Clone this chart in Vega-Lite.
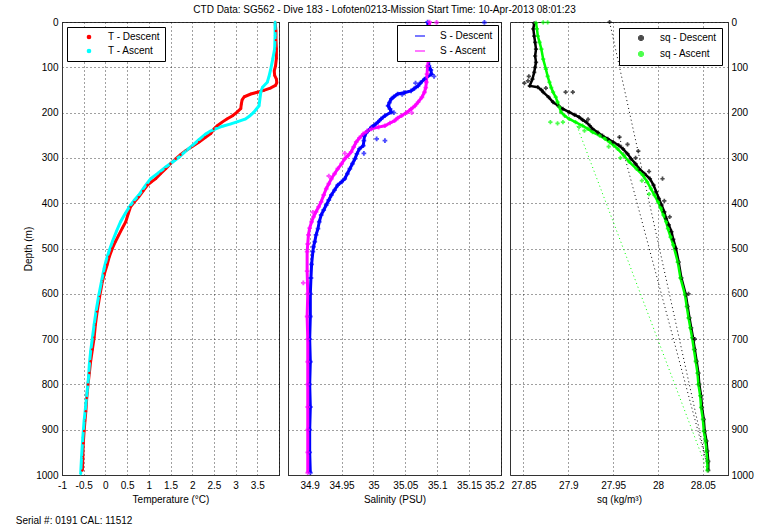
{
  "$schema": "https://vega.github.io/schema/vega-lite/v6.json",
  "background": "white",
  "padding": {"left": 15, "top": 4, "right": 5, "bottom": 2},
  "title": {"text": "CTD Data: SG562 - Dive 183 - Lofoten0213-Mission Start Time: 10-Apr-2013 08:01:23", "fontSize": 10, "fontWeight": "normal", "anchor": "middle", "offset": 1, "color": "black"},
  "datasets": {
    "temp": [
      {"cast":"Descent","depth":0,"T":3.91},{"cast":"Descent","depth":20,"T":3.93},{"cast":"Descent","depth":40,"T":3.93},{"cast":"Descent","depth":59,"T":3.94},{"cast":"Descent","depth":80,"T":3.94},{"cast":"Descent","depth":97,"T":3.92},{"cast":"Descent","depth":108,"T":3.89},{"cast":"Descent","depth":118,"T":3.9},{"cast":"Descent","depth":126,"T":3.94},{"cast":"Descent","depth":134,"T":3.95},{"cast":"Descent","depth":140,"T":3.92},{"cast":"Descent","depth":146,"T":3.8},{"cast":"Descent","depth":151,"T":3.65},{"cast":"Descent","depth":155,"T":3.5},{"cast":"Descent","depth":159,"T":3.35},{"cast":"Descent","depth":165,"T":3.2},{"cast":"Descent","depth":172,"T":3.15},{"cast":"Descent","depth":182,"T":3.13},{"cast":"Descent","depth":191,"T":3.12},{"cast":"Descent","depth":200,"T":3.02},{"cast":"Descent","depth":207,"T":2.93},{"cast":"Descent","depth":214,"T":2.8},{"cast":"Descent","depth":221,"T":2.69},{"cast":"Descent","depth":229,"T":2.58},{"cast":"Descent","depth":236,"T":2.5},{"cast":"Descent","depth":246,"T":2.43},{"cast":"Descent","depth":255,"T":2.3},{"cast":"Descent","depth":265,"T":2.16},{"cast":"Descent","depth":275,"T":2.0},{"cast":"Descent","depth":284,"T":1.85},{"cast":"Descent","depth":293,"T":1.73},{"cast":"Descent","depth":302,"T":1.62},{"cast":"Descent","depth":313,"T":1.5},{"cast":"Descent","depth":324,"T":1.39},{"cast":"Descent","depth":335,"T":1.27},{"cast":"Descent","depth":346,"T":1.16},{"cast":"Descent","depth":353,"T":1.06},{"cast":"Descent","depth":360,"T":0.97},{"cast":"Descent","depth":373,"T":0.87},{"cast":"Descent","depth":386,"T":0.77},{"cast":"Descent","depth":397,"T":0.67},{"cast":"Descent","depth":408,"T":0.58},{"cast":"Descent","depth":425,"T":0.52},{"cast":"Descent","depth":441,"T":0.47},{"cast":"Descent","depth":455,"T":0.39},{"cast":"Descent","depth":470,"T":0.31},{"cast":"Descent","depth":485,"T":0.23},{"cast":"Descent","depth":500,"T":0.16},{"cast":"Descent","depth":518,"T":0.09},{"cast":"Descent","depth":536,"T":0.04},{"cast":"Descent","depth":555,"T":-0.02},{"cast":"Descent","depth":573,"T":-0.07},{"cast":"Descent","depth":605,"T":-0.13},{"cast":"Descent","depth":639,"T":-0.19},{"cast":"Descent","depth":668,"T":-0.23},{"cast":"Descent","depth":697,"T":-0.26},{"cast":"Descent","depth":723,"T":-0.3},{"cast":"Descent","depth":749,"T":-0.34},{"cast":"Descent","depth":775,"T":-0.37},{"cast":"Descent","depth":800,"T":-0.4},{"cast":"Descent","depth":830,"T":-0.43},{"cast":"Descent","depth":859,"T":-0.45},{"cast":"Descent","depth":880,"T":-0.47},{"cast":"Descent","depth":903,"T":-0.49},{"cast":"Descent","depth":930,"T":-0.51},{"cast":"Descent","depth":961,"T":-0.52},{"cast":"Descent","depth":990,"T":-0.53},
      {"cast":"Ascent","depth":0,"T":3.91},{"cast":"Ascent","depth":30,"T":3.91},{"cast":"Ascent","depth":59,"T":3.9},{"cast":"Ascent","depth":80,"T":3.86},{"cast":"Ascent","depth":104,"T":3.81},{"cast":"Ascent","depth":120,"T":3.77},{"cast":"Ascent","depth":133,"T":3.73},{"cast":"Ascent","depth":144,"T":3.62},{"cast":"Ascent","depth":155,"T":3.58},{"cast":"Ascent","depth":170,"T":3.56},{"cast":"Ascent","depth":185,"T":3.54},{"cast":"Ascent","depth":192,"T":3.48},{"cast":"Ascent","depth":199,"T":3.42},{"cast":"Ascent","depth":207,"T":3.33},{"cast":"Ascent","depth":214,"T":3.23},{"cast":"Ascent","depth":220,"T":3.05},{"cast":"Ascent","depth":225,"T":2.89},{"cast":"Ascent","depth":230,"T":2.7},{"cast":"Ascent","depth":236,"T":2.54},{"cast":"Ascent","depth":241,"T":2.42},{"cast":"Ascent","depth":247,"T":2.31},{"cast":"Ascent","depth":260,"T":2.15},{"cast":"Ascent","depth":273,"T":2.0},{"cast":"Ascent","depth":285,"T":1.85},{"cast":"Ascent","depth":298,"T":1.7},{"cast":"Ascent","depth":309,"T":1.55},{"cast":"Ascent","depth":320,"T":1.39},{"cast":"Ascent","depth":333,"T":1.22},{"cast":"Ascent","depth":346,"T":1.04},{"cast":"Ascent","depth":364,"T":0.9},{"cast":"Ascent","depth":382,"T":0.77},{"cast":"Ascent","depth":393,"T":0.67},{"cast":"Ascent","depth":404,"T":0.58},{"cast":"Ascent","depth":422,"T":0.46},{"cast":"Ascent","depth":441,"T":0.35},{"cast":"Ascent","depth":463,"T":0.25},{"cast":"Ascent","depth":485,"T":0.16},{"cast":"Ascent","depth":507,"T":0.08},{"cast":"Ascent","depth":525,"T":0.02},{"cast":"Ascent","depth":544,"T":-0.03},{"cast":"Ascent","depth":573,"T":-0.09},{"cast":"Ascent","depth":602,"T":-0.15},{"cast":"Ascent","depth":635,"T":-0.21},{"cast":"Ascent","depth":668,"T":-0.26},{"cast":"Ascent","depth":698,"T":-0.3},{"cast":"Ascent","depth":727,"T":-0.34},{"cast":"Ascent","depth":756,"T":-0.37},{"cast":"Ascent","depth":785,"T":-0.39},{"cast":"Ascent","depth":815,"T":-0.42},{"cast":"Ascent","depth":844,"T":-0.45},{"cast":"Ascent","depth":880,"T":-0.49},{"cast":"Ascent","depth":917,"T":-0.52},{"cast":"Ascent","depth":961,"T":-0.55},{"cast":"Ascent","depth":998,"T":-0.57}
    ],
    "sal": [
      {"cast":"Descent","depth":0,"S":35.085},{"cast":"Descent","depth":15,"S":35.086},{"cast":"Descent","depth":31,"S":35.085},{"cast":"Descent","depth":45,"S":35.087},{"cast":"Descent","depth":59,"S":35.085},{"cast":"Descent","depth":78,"S":35.086},{"cast":"Descent","depth":97,"S":35.087},{"cast":"Descent","depth":106,"S":35.09},{"cast":"Descent","depth":115,"S":35.091},{"cast":"Descent","depth":126,"S":35.08},{"cast":"Descent","depth":134,"S":35.074},{"cast":"Descent","depth":141,"S":35.07},{"cast":"Descent","depth":147,"S":35.064},{"cast":"Descent","depth":152,"S":35.059},{"cast":"Descent","depth":156,"S":35.048},{"cast":"Descent","depth":159,"S":35.038},{"cast":"Descent","depth":165,"S":35.032},{"cast":"Descent","depth":170,"S":35.028},{"cast":"Descent","depth":178,"S":35.025},{"cast":"Descent","depth":185,"S":35.023},{"cast":"Descent","depth":192,"S":35.026},{"cast":"Descent","depth":199,"S":35.028},{"cast":"Descent","depth":207,"S":35.018},{"cast":"Descent","depth":214,"S":35.012},{"cast":"Descent","depth":221,"S":35.007},{"cast":"Descent","depth":227,"S":35.002},{"cast":"Descent","depth":232,"S":34.997},{"cast":"Descent","depth":241,"S":34.991},{"cast":"Descent","depth":251,"S":34.986},{"cast":"Descent","depth":262,"S":34.985},{"cast":"Descent","depth":273,"S":34.984},{"cast":"Descent","depth":280,"S":34.978},{"cast":"Descent","depth":291,"S":34.974},{"cast":"Descent","depth":302,"S":34.971},{"cast":"Descent","depth":313,"S":34.967},{"cast":"Descent","depth":324,"S":34.963},{"cast":"Descent","depth":335,"S":34.959},{"cast":"Descent","depth":346,"S":34.955},{"cast":"Descent","depth":353,"S":34.95},{"cast":"Descent","depth":360,"S":34.944},{"cast":"Descent","depth":371,"S":34.939},{"cast":"Descent","depth":382,"S":34.934},{"cast":"Descent","depth":393,"S":34.93},{"cast":"Descent","depth":404,"S":34.926},{"cast":"Descent","depth":415,"S":34.922},{"cast":"Descent","depth":426,"S":34.918},{"cast":"Descent","depth":441,"S":34.915},{"cast":"Descent","depth":456,"S":34.913},{"cast":"Descent","depth":470,"S":34.91},{"cast":"Descent","depth":485,"S":34.908},{"cast":"Descent","depth":496,"S":34.906},{"cast":"Descent","depth":507,"S":34.905},{"cast":"Descent","depth":535,"S":34.903},{"cast":"Descent","depth":565,"S":34.902},{"cast":"Descent","depth":600,"S":34.901},{"cast":"Descent","depth":650,"S":34.901},{"cast":"Descent","depth":700,"S":34.9},{"cast":"Descent","depth":750,"S":34.901},{"cast":"Descent","depth":800,"S":34.9},{"cast":"Descent","depth":850,"S":34.901},{"cast":"Descent","depth":900,"S":34.9},{"cast":"Descent","depth":950,"S":34.9},{"cast":"Descent","depth":995,"S":34.901},
      {"cast":"Ascent","depth":0,"S":35.088},{"cast":"Ascent","depth":30,"S":35.088},{"cast":"Ascent","depth":59,"S":35.089},{"cast":"Ascent","depth":78,"S":35.087},{"cast":"Ascent","depth":97,"S":35.085},{"cast":"Ascent","depth":115,"S":35.084},{"cast":"Ascent","depth":133,"S":35.083},{"cast":"Ascent","depth":145,"S":35.082},{"cast":"Ascent","depth":155,"S":35.08},{"cast":"Ascent","depth":166,"S":35.076},{"cast":"Ascent","depth":177,"S":35.07},{"cast":"Ascent","depth":185,"S":35.065},{"cast":"Ascent","depth":192,"S":35.059},{"cast":"Ascent","depth":200,"S":35.052},{"cast":"Ascent","depth":207,"S":35.044},{"cast":"Ascent","depth":212,"S":35.038},{"cast":"Ascent","depth":218,"S":35.033},{"cast":"Ascent","depth":223,"S":35.026},{"cast":"Ascent","depth":229,"S":35.018},{"cast":"Ascent","depth":232,"S":35.008},{"cast":"Ascent","depth":236,"S":34.997},{"cast":"Ascent","depth":241,"S":34.99},{"cast":"Ascent","depth":247,"S":34.984},{"cast":"Ascent","depth":256,"S":34.978},{"cast":"Ascent","depth":265,"S":34.973},{"cast":"Ascent","depth":276,"S":34.969},{"cast":"Ascent","depth":287,"S":34.965},{"cast":"Ascent","depth":295,"S":34.96},{"cast":"Ascent","depth":302,"S":34.955},{"cast":"Ascent","depth":313,"S":34.95},{"cast":"Ascent","depth":324,"S":34.944},{"cast":"Ascent","depth":335,"S":34.939},{"cast":"Ascent","depth":346,"S":34.934},{"cast":"Ascent","depth":357,"S":34.93},{"cast":"Ascent","depth":368,"S":34.926},{"cast":"Ascent","depth":382,"S":34.922},{"cast":"Ascent","depth":397,"S":34.918},{"cast":"Ascent","depth":408,"S":34.914},{"cast":"Ascent","depth":419,"S":34.91},{"cast":"Ascent","depth":430,"S":34.906},{"cast":"Ascent","depth":441,"S":34.903},{"cast":"Ascent","depth":455,"S":34.9},{"cast":"Ascent","depth":470,"S":34.898},{"cast":"Ascent","depth":490,"S":34.897},{"cast":"Ascent","depth":507,"S":34.896},{"cast":"Ascent","depth":550,"S":34.896},{"cast":"Ascent","depth":600,"S":34.897},{"cast":"Ascent","depth":650,"S":34.896},{"cast":"Ascent","depth":700,"S":34.897},{"cast":"Ascent","depth":750,"S":34.897},{"cast":"Ascent","depth":800,"S":34.897},{"cast":"Ascent","depth":850,"S":34.897},{"cast":"Ascent","depth":900,"S":34.897},{"cast":"Ascent","depth":950,"S":34.897},{"cast":"Ascent","depth":995,"S":34.897}
    ],
    "salout": [
      {"cast":"Descent","depth":1,"S":35.174},{"cast":"Descent","depth":258,"S":35.005},{"cast":"Descent","depth":262,"S":35.018},{"cast":"Descent","depth":120,"S":35.095},{"cast":"Descent","depth":135,"S":35.066},{"cast":"Descent","depth":160,"S":35.045},{"cast":"Descent","depth":290,"S":34.985},{"cast":"Descent","depth":200,"S":35.032},
      {"cast":"Ascent","depth":1,"S":35.099},{"cast":"Ascent","depth":576,"S":34.89},{"cast":"Ascent","depth":290,"S":34.955},{"cast":"Ascent","depth":340,"S":34.93},{"cast":"Ascent","depth":420,"S":34.905},{"cast":"Ascent","depth":200,"S":35.06}
    ],
    "sig": [
      {"cast":"Descent","depth":3,"sig":27.862},{"cast":"Descent","depth":15,"sig":27.861},{"cast":"Descent","depth":31,"sig":27.862},{"cast":"Descent","depth":45,"sig":27.863},{"cast":"Descent","depth":60,"sig":27.864},{"cast":"Descent","depth":75,"sig":27.863},{"cast":"Descent","depth":89,"sig":27.864},{"cast":"Descent","depth":100,"sig":27.863},{"cast":"Descent","depth":111,"sig":27.862},{"cast":"Descent","depth":126,"sig":27.86},{"cast":"Descent","depth":141,"sig":27.857},{"cast":"Descent","depth":144,"sig":27.866},{"cast":"Descent","depth":150,"sig":27.87},{"cast":"Descent","depth":155,"sig":27.872},{"cast":"Descent","depth":166,"sig":27.878},{"cast":"Descent","depth":177,"sig":27.883},{"cast":"Descent","depth":185,"sig":27.889},{"cast":"Descent","depth":192,"sig":27.894},{"cast":"Descent","depth":199,"sig":27.901},{"cast":"Descent","depth":205,"sig":27.907},{"cast":"Descent","depth":210,"sig":27.912},{"cast":"Descent","depth":216,"sig":27.916},{"cast":"Descent","depth":221,"sig":27.92},{"cast":"Descent","depth":229,"sig":27.924},{"cast":"Descent","depth":236,"sig":27.927},{"cast":"Descent","depth":244,"sig":27.933},{"cast":"Descent","depth":251,"sig":27.938},{"cast":"Descent","depth":258,"sig":27.944},{"cast":"Descent","depth":265,"sig":27.95},{"cast":"Descent","depth":272,"sig":27.956},{"cast":"Descent","depth":280,"sig":27.961},{"cast":"Descent","depth":291,"sig":27.966},{"cast":"Descent","depth":302,"sig":27.97},{"cast":"Descent","depth":313,"sig":27.975},{"cast":"Descent","depth":324,"sig":27.979},{"cast":"Descent","depth":335,"sig":27.985},{"cast":"Descent","depth":346,"sig":27.991},{"cast":"Descent","depth":360,"sig":27.995},{"cast":"Descent","depth":375,"sig":27.998},{"cast":"Descent","depth":390,"sig":28.001},{"cast":"Descent","depth":404,"sig":28.004},{"cast":"Descent","depth":419,"sig":28.007},{"cast":"Descent","depth":434,"sig":28.009},{"cast":"Descent","depth":448,"sig":28.012},{"cast":"Descent","depth":463,"sig":28.015},{"cast":"Descent","depth":480,"sig":28.017},{"cast":"Descent","depth":500,"sig":28.02},{"cast":"Descent","depth":530,"sig":28.023},{"cast":"Descent","depth":565,"sig":28.026},{"cast":"Descent","depth":602,"sig":28.031},{"cast":"Descent","depth":628,"sig":28.033},{"cast":"Descent","depth":653,"sig":28.035},{"cast":"Descent","depth":675,"sig":28.037},{"cast":"Descent","depth":697,"sig":28.039},{"cast":"Descent","depth":723,"sig":28.041},{"cast":"Descent","depth":749,"sig":28.043},{"cast":"Descent","depth":775,"sig":28.045},{"cast":"Descent","depth":800,"sig":28.046},{"cast":"Descent","depth":825,"sig":28.048},{"cast":"Descent","depth":851,"sig":28.049},{"cast":"Descent","depth":877,"sig":28.051},{"cast":"Descent","depth":903,"sig":28.052},{"cast":"Descent","depth":925,"sig":28.054},{"cast":"Descent","depth":947,"sig":28.055},{"cast":"Descent","depth":970,"sig":28.056},{"cast":"Descent","depth":990,"sig":28.056},
      {"cast":"Ascent","depth":2,"sig":27.864},{"cast":"Ascent","depth":15,"sig":27.865},{"cast":"Ascent","depth":31,"sig":27.866},{"cast":"Ascent","depth":45,"sig":27.868},{"cast":"Ascent","depth":60,"sig":27.87},{"cast":"Ascent","depth":82,"sig":27.872},{"cast":"Ascent","depth":104,"sig":27.875},{"cast":"Ascent","depth":120,"sig":27.877},{"cast":"Ascent","depth":133,"sig":27.879},{"cast":"Ascent","depth":145,"sig":27.881},{"cast":"Ascent","depth":155,"sig":27.883},{"cast":"Ascent","depth":166,"sig":27.886},{"cast":"Ascent","depth":177,"sig":27.888},{"cast":"Ascent","depth":188,"sig":27.89},{"cast":"Ascent","depth":199,"sig":27.892},{"cast":"Ascent","depth":207,"sig":27.896},{"cast":"Ascent","depth":214,"sig":27.901},{"cast":"Ascent","depth":221,"sig":27.908},{"cast":"Ascent","depth":229,"sig":27.916},{"cast":"Ascent","depth":236,"sig":27.922},{"cast":"Ascent","depth":243,"sig":27.927},{"cast":"Ascent","depth":251,"sig":27.935},{"cast":"Ascent","depth":258,"sig":27.941},{"cast":"Ascent","depth":265,"sig":27.946},{"cast":"Ascent","depth":273,"sig":27.951},{"cast":"Ascent","depth":280,"sig":27.955},{"cast":"Ascent","depth":295,"sig":27.962},{"cast":"Ascent","depth":309,"sig":27.968},{"cast":"Ascent","depth":324,"sig":27.976},{"cast":"Ascent","depth":338,"sig":27.983},{"cast":"Ascent","depth":353,"sig":27.988},{"cast":"Ascent","depth":368,"sig":27.992},{"cast":"Ascent","depth":382,"sig":27.996},{"cast":"Ascent","depth":397,"sig":28.0},{"cast":"Ascent","depth":411,"sig":28.003},{"cast":"Ascent","depth":426,"sig":28.006},{"cast":"Ascent","depth":441,"sig":28.009},{"cast":"Ascent","depth":456,"sig":28.011},{"cast":"Ascent","depth":475,"sig":28.014},{"cast":"Ascent","depth":492,"sig":28.017},{"cast":"Ascent","depth":530,"sig":28.022},{"cast":"Ascent","depth":565,"sig":28.025},{"cast":"Ascent","depth":602,"sig":28.03},{"cast":"Ascent","depth":628,"sig":28.032},{"cast":"Ascent","depth":653,"sig":28.034},{"cast":"Ascent","depth":675,"sig":28.036},{"cast":"Ascent","depth":697,"sig":28.038},{"cast":"Ascent","depth":723,"sig":28.04},{"cast":"Ascent","depth":749,"sig":28.042},{"cast":"Ascent","depth":775,"sig":28.044},{"cast":"Ascent","depth":800,"sig":28.045},{"cast":"Ascent","depth":825,"sig":28.047},{"cast":"Ascent","depth":851,"sig":28.048},{"cast":"Ascent","depth":877,"sig":28.05},{"cast":"Ascent","depth":903,"sig":28.051},{"cast":"Ascent","depth":925,"sig":28.053},{"cast":"Ascent","depth":947,"sig":28.054},{"cast":"Ascent","depth":970,"sig":28.055},{"cast":"Ascent","depth":990,"sig":28.055}
    ],
    "sigout": [
      {"cast":"Descent","depth":0,"sig":27.946},{"cast":"Descent","depth":135,"sig":27.851},{"cast":"Descent","depth":130,"sig":27.855},{"cast":"Descent","depth":120,"sig":27.856},{"cast":"Descent","depth":146,"sig":27.875},{"cast":"Descent","depth":155,"sig":27.897},{"cast":"Descent","depth":155,"sig":27.905},{"cast":"Descent","depth":254,"sig":27.957},{"cast":"Descent","depth":270,"sig":27.966},{"cast":"Descent","depth":285,"sig":27.978},{"cast":"Descent","depth":346,"sig":28.005},{"cast":"Descent","depth":330,"sig":27.99},{"cast":"Descent","depth":395,"sig":28.007},{"cast":"Descent","depth":430,"sig":28.013},{"cast":"Descent","depth":600,"sig":28.034},{"cast":"Descent","depth":700,"sig":28.041},{"cast":"Descent","depth":300,"sig":27.975},{"cast":"Descent","depth":215,"sig":27.922},
      {"cast":"Ascent","depth":1,"sig":27.872},{"cast":"Ascent","depth":1,"sig":27.877},{"cast":"Ascent","depth":221,"sig":27.88},{"cast":"Ascent","depth":221,"sig":27.894},{"cast":"Ascent","depth":224,"sig":27.888},{"cast":"Ascent","depth":232,"sig":27.912},{"cast":"Ascent","depth":275,"sig":27.945},{"cast":"Ascent","depth":300,"sig":27.958},{"cast":"Ascent","depth":350,"sig":27.982},{"cast":"Ascent","depth":380,"sig":27.99},{"cast":"Ascent","depth":240,"sig":27.918}
    ],
    "sigconn": [
      {"cast":"Descent","seg":"a","depth":0,"sig":27.946},{"cast":"Descent","seg":"a","depth":990,"sig":28.056},
      {"cast":"Descent","seg":"b","depth":254,"sig":27.957},{"cast":"Descent","seg":"b","depth":980,"sig":28.055},
      {"cast":"Ascent","seg":"c","depth":221,"sig":27.908},{"cast":"Ascent","seg":"c","depth":990,"sig":28.055}
    ]
  },
  "spacing": 9,
  "bounds": "flush",
  "resolve": {"scale": {"color": "independent", "x": "independent", "y": "independent"}, "legend": {"color": "independent"}},
  "hconcat": [
    {
      "width": 217, "height": 453,
      "title": {"text": "Serial #: 0191   CAL: 11512", "orient": "bottom", "anchor": "start", "fontSize": 10, "fontWeight": "normal", "dx": -8, "offset": 12, "color": "black"},
      "data": {"name": "temp"},
      "layer": [
        {
          "mark": {"type": "line", "strokeWidth": 3},
          "encoding": {
            "x": {"field": "T", "type": "quantitative", "scale": {"domain": [-1, 4], "nice": false, "zero": false}, "axis": {"tickCount": 10, "format": "~g", "labelExpr": "datum.value > 3.9 ? '' : replace(datum.label, '\u2212', '-')", "title": "Temperature (°C)", "labelOverlap": false, "labelFlush": false}},
            "y": {"field": "depth", "type": "quantitative", "scale": {"domain": [0, 1000], "reverse": true, "nice": false, "zero": false}, "axis": {"tickCount": 10, "format": "d", "title": "Depth (m)", "minExtent": 0, "labelPadding": 4, "titlePadding": 2, "labelOverlap": false}},
            "color": {"field": "cast", "type": "nominal", "scale": {"domain": ["Descent", "Ascent"], "range": ["#ff0000", "#00ffff"]}, "legend": {"orient": "top-left", "offset": 5, "title": null, "labelExpr": "'T - ' + datum.label", "symbolType": "circle", "symbolSize": 10}},
            "order": {"field": "depth", "type": "quantitative"}
          }
        },
        {
          "mark": {"type": "point", "shape": "circle", "filled": true, "size": 6, "opacity": 1},
          "encoding": {
            "x": {"field": "T", "type": "quantitative"},
            "y": {"field": "depth", "type": "quantitative"},
            "color": {"field": "cast", "type": "nominal"}
          }
        }
      ]
    },
    {
      "width": 213, "height": 453,
      "layer": [
        {
          "data": {"name": "sal"},
          "mark": {"type": "line", "strokeWidth": 3},
          "encoding": {
            "x": {"field": "S", "type": "quantitative", "scale": {"domain": [34.866, 35.2], "nice": false, "zero": false}, "axis": {"tickCount": 7, "format": "~g", "title": "Salinity (PSU)", "labelOverlap": false, "labelFlush": true, "labelFlushOffset": 3}},
            "y": {"field": "depth", "type": "quantitative", "scale": {"domain": [0, 1000], "reverse": true, "nice": false, "zero": false}, "axis": {"tickCount": 10, "labels": false, "title": null, "labelPadding": 0, "minExtent": 0}},
            "color": {"field": "cast", "type": "nominal", "scale": {"domain": ["Descent", "Ascent"], "range": ["#0000ff", "#ff00ff"]}, "legend": {"orient": "top-right", "offset": 3, "title": null, "labelExpr": "'S - ' + datum.label", "symbolOpacity": 0, "fillColor": null}},
            "order": {"field": "depth", "type": "quantitative"}
          }
        },
        {
          "data": {"name": "sal"},
          "mark": {"type": "point", "shape": "cross", "filled": true, "size": 22},
          "encoding": {
            "x": {"field": "S", "type": "quantitative"},
            "y": {"field": "depth", "type": "quantitative"},
            "color": {"field": "cast", "type": "nominal"}
          }
        },
        {
          "data": {"name": "salout"},
          "mark": {"type": "point", "shape": "cross", "filled": true, "size": 22},
          "encoding": {
            "x": {"field": "S", "type": "quantitative"},
            "y": {"field": "depth", "type": "quantitative"},
            "color": {"field": "cast", "type": "nominal"}
          }
        }
      ]
    },
    {
      "width": 218, "height": 453,
      "layer": [
        {
          "data": {"name": "sigconn"},
          "mark": {"type": "line", "strokeWidth": 1, "strokeDash": [1, 3]},
          "encoding": {
            "x": {"field": "sig", "type": "quantitative", "scale": {"domain": [27.835, 28.078], "nice": false, "zero": false}, "axis": {"tickCount": 5, "format": "~g", "title": "sq (kg/m³)", "labelOverlap": false, "labelFlush": false}},
            "y": {"field": "depth", "type": "quantitative", "scale": {"domain": [0, 1000], "reverse": true, "nice": false, "zero": false}, "axis": {"tickCount": 10, "format": "d", "orient": "right", "title": null, "labelPadding": 3, "minExtent": 0, "labelOverlap": false}},
            "color": {"field": "cast", "type": "nominal", "scale": {"domain": ["Descent", "Ascent"], "range": ["#000000", "#00ff00"]}, "legend": {"orient": "top-right", "offset": 6, "title": null, "labelExpr": "'sq - ' + datum.label", "symbolType": "cross", "symbolSize": 20}},
            "detail": {"field": "seg", "type": "nominal"},
            "order": {"field": "depth", "type": "quantitative"}
          }
        },
        {
          "data": {"name": "sig"},
          "mark": {"type": "line", "strokeWidth": 2.5},
          "encoding": {
            "x": {"field": "sig", "type": "quantitative"},
            "y": {"field": "depth", "type": "quantitative"},
            "color": {"field": "cast", "type": "nominal"},
            "order": {"field": "depth", "type": "quantitative"}
          }
        },
        {
          "data": {"name": "sig"},
          "mark": {"type": "point", "shape": "cross", "filled": true, "size": 18},
          "encoding": {
            "x": {"field": "sig", "type": "quantitative"},
            "y": {"field": "depth", "type": "quantitative"},
            "color": {"field": "cast", "type": "nominal"}
          }
        },
        {
          "data": {"name": "sigout"},
          "mark": {"type": "point", "shape": "cross", "filled": true, "size": 18},
          "encoding": {
            "x": {"field": "sig", "type": "quantitative"},
            "y": {"field": "depth", "type": "quantitative"},
            "color": {"field": "cast", "type": "nominal"}
          }
        }
      ]
    }
  ],
  "config": {
    "font": "Liberation Sans",
    "view": {"stroke": "#333333", "strokeWidth": 1},
    "axis": {"labelFontSize": 10, "titleFontSize": 10, "titleFontWeight": "normal", "labelColor": "black", "titleColor": "black", "grid": true, "gridColor": "#000000", "gridDash": [1, 3], "gridOpacity": 0.75, "domainColor": "#333333", "ticks": false, "labelPadding": 5, "titlePadding": 4, "labelFont": "Liberation Sans", "titleFont": "Liberation Sans", "labelOverlap": false},
    "legend": {"strokeColor": "#000000", "fillColor": "white", "padding": 5, "labelFontSize": 10, "labelColor": "black", "labelFont": "Liberation Sans", "rowPadding": 4, "symbolOffset": 12, "labelOffset": 14, "cornerRadius": 0},
    "title": {"font": "Liberation Sans"}
  }
}
